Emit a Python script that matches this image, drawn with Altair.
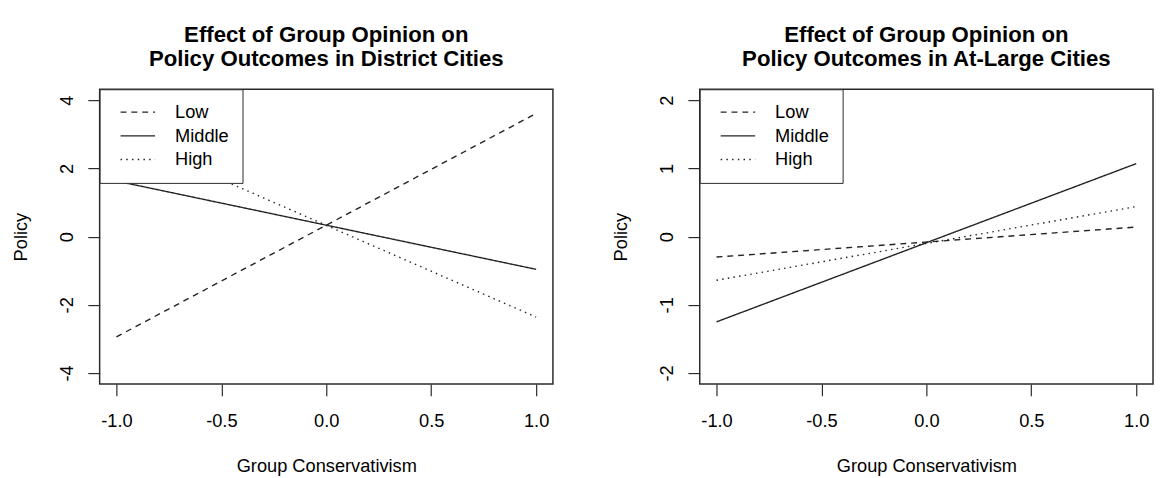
import altair as alt
import pandas as pd

# ---- data ----
x_vals = [-1.0, 1.0]
series_names = ["Low", "Middle", "High"]

district_low = [-2.94, 3.61]
district_middle = [1.63, -0.96]
district_high = [3.02, -2.36]

atlarge_low = [-0.30, 0.14]
atlarge_middle = [-1.25, 1.07]
atlarge_high = [-0.64, 0.44]

x_ticks = [-1.0, -0.5, 0.0, 0.5, 1.0]
district_y_ticks = [-4, -2, 0, 2, 4]
atlarge_y_ticks = [-2, -1, 0, 1, 2]


def make_df(low, middle, high):
    rows = []
    for name, vals in zip(series_names, [low, middle, high]):
        for x, y in zip(x_vals, vals):
            rows.append({"x": x, "y": y, "series": name})
    return pd.DataFrame(rows)


df_district = make_df(district_low, district_middle, district_high)
df_atlarge = make_df(atlarge_low, atlarge_middle, atlarge_high)

FONT = "Liberation Sans"
INK = "#222222"
BOX = "#2a2a2a"
DASHES = [[6, 5], [1, 0], [1.5, 4.3]]


def panel(df, title_lines, y_ticks, y_lim):
    ext = (y_lim[1] - y_lim[0]) * 0.04
    x = alt.X(
        "x:Q",
        scale=alt.Scale(domain=[-1.08, 1.08], nice=False, zero=False),
        axis=alt.Axis(
            values=x_ticks,
            labelExpr="(datum.value < 0 ? '-' : '') + format(abs(datum.value), '.1f')",
            title="Group Conservativism",
            grid=False,
            domain=False,
            tickSize=12,
            tickColor=BOX,
            tickWidth=1.2,
            labelFontSize=18.5,
            labelFont=FONT,
            labelColor="black",
            labelPadding=31.5,
            labelBaseline="alphabetic",
            titleFont=FONT,
            titleFontSize=18.5,
            titleFontWeight="normal",
            titleColor="black",
            titleBaseline="alphabetic",
            titleY=88.6,
        ),
    )
    y = alt.Y(
        "y:Q",
        scale=alt.Scale(domain=[y_lim[0] - ext, y_lim[1] + ext], nice=False, zero=False),
        axis=alt.Axis(
            values=y_ticks,
            labelExpr="(datum.value < 0 ? '-' : '') + format(abs(datum.value), 'd')",
            title="Policy",
            grid=False,
            domain=False,
            tickSize=12,
            tickColor=BOX,
            tickWidth=1.2,
            labelFontSize=18.5,
            labelFont=FONT,
            labelColor="black",
            labelAngle=270,
            labelAlign="center",
            labelBaseline="alphabetic",
            labelPadding=15.5,
            titleFont=FONT,
            titleFontSize=18.5,
            titleFontWeight="normal",
            titleColor="black",
            titleAngle=270,
            titleAlign="center",
            titleBaseline="alphabetic",
            titleX=-74.5,
            titleY=149.5,
        ),
    )
    dash = alt.StrokeDash(
        "series:N",
        scale=alt.Scale(domain=series_names, range=DASHES),
        legend=alt.Legend(
            title=None,
            orient="none",
            legendX=0,
            legendY=0,
            strokeColor=BOX,
            fillColor="white",
            padding=14,
            symbolType="M-0.4,0H6.6",
            symbolSize=100,
            symbolStrokeWidth=1.3,
            symbolStrokeColor=INK,
            symbolFillColor="transparent",
            labelFont=FONT,
            labelFontSize=18.5,
            labelColor="black",
            labelOffset=44,
            rowPadding=5,
        ),
    )
    return (
        alt.Chart(df)
        .mark_line(color=INK, strokeWidth=1.4)
        .encode(x=x, y=y, strokeDash=dash, detail="series:N")
        .properties(
            width=460,
            height=299,
            title=alt.TitleParams(
                text=title_lines,
                font=FONT,
                fontSize=22.5,
                fontWeight="bold",
                color="black",
                lineHeight=24,
                baseline="bottom",
                anchor="middle",
                offset=-4.5,
            ),
        )
    )


left = panel(
    df_district,
    ["Effect of Group Opinion on", "Policy Outcomes in District Cities"],
    district_y_ticks,
    (-4, 4),
)
right = panel(
    df_atlarge,
    ["Effect of Group Opinion on", "Policy Outcomes in At-Large Cities"],
    atlarge_y_ticks,
    (-2, 2),
)

chart = (
    alt.hconcat(left, right, spacing=57)
    .resolve_scale(strokeDash="independent", x="independent", y="independent")
    .resolve_legend(strokeDash="independent")
    .properties(
        padding={"left": 2, "top": 12, "right": 0, "bottom": 0},
        background="white",
    )
    .configure_view(stroke=BOX, strokeWidth=1.5)
)

chart.save("out.html", embed_options={"renderer": "svg", "actions": False})
